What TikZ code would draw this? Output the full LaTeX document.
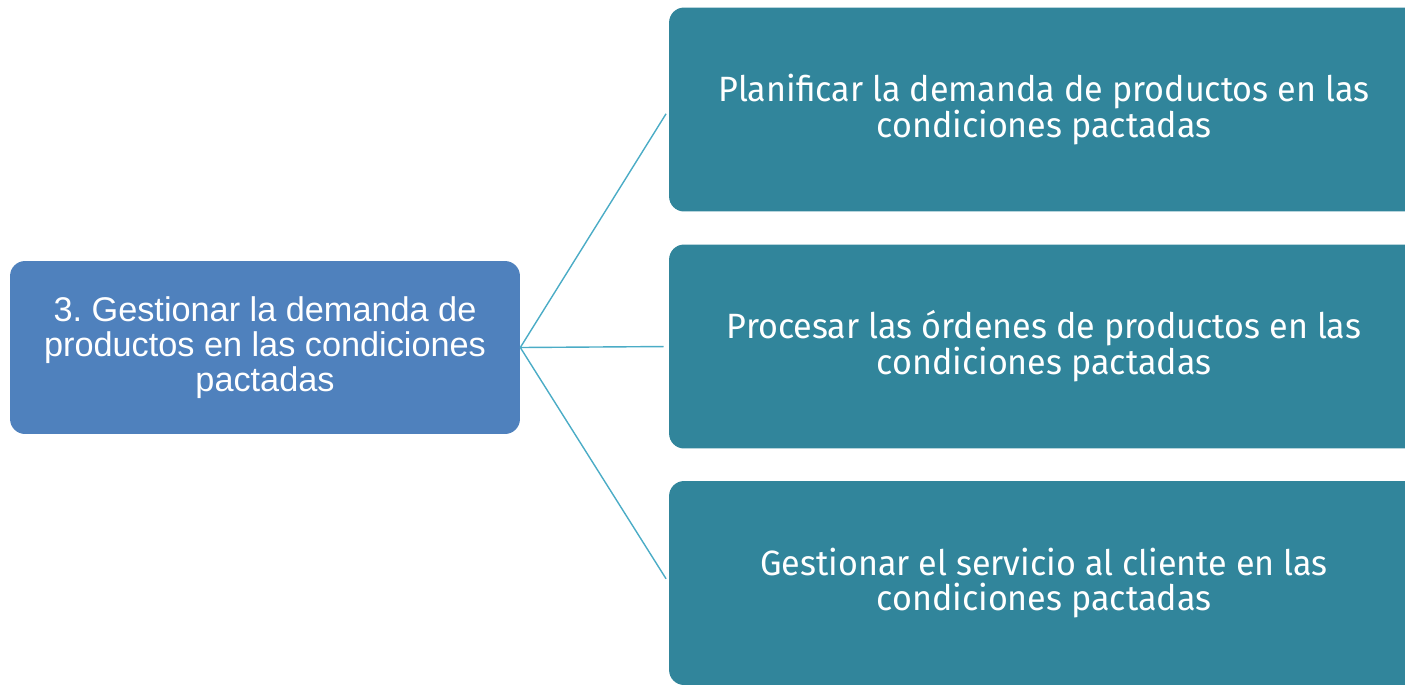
\documentclass[tikz,border=0pt]{standalone}
\usepackage{fontspec}
\setmainfont{Liberation Sans}
\newfontfamily\subfont[FakeStretch=0.97]{Fira Sans}
\usepackage{tikz}
\usetikzlibrary{calc}
\definecolor{rootblue}{RGB}{79,129,189}
\definecolor{subteal}{RGB}{49,133,155}
\definecolor{linkblue}{RGB}{75,172,198}
\frenchspacing
\tikzset{
	rootbox/.style={fill=rootblue, rounded corners=0.3cm, minimum width=10.2cm, minimum height=3.46cm, align=center, text=white, font=\fontsize{19.5}{19.9}\selectfont},
	subbox/.style={fill=subteal, rounded corners=0.3cm, minimum width=15cm, minimum height=4.08cm, align=center, text=white, font=\subfont\fontsize{20}{20.4}\selectfont},
	link/.style={draw=linkblue, line width=0.8pt, shorten >=0.1cm}
}
\begin{document}
\begin{tikzpicture}[x=0.02cm, y=-0.02cm]
		\useasboundingbox (0,0) rectangle (1405,684);
		\node[rootbox] (G) at (265,347.5) {3. Gestionar la demanda de\\productos en las condiciones\\pactadas};
		\node[subbox] (S1) at (1044,109.5) {Planificar la demanda de productos en las\\condiciones pactadas};
		\node[subbox] (S2) at (1044,346.5) {Procesar las órdenes de productos en las\\condiciones pactadas};
		\node[subbox] (S3) at (1044,583) {Gestionar el servicio al cliente en las\\condiciones pactadas};
		\foreach \s in {S1,S2,S3}
			\draw[link] (G.east) -- (\s.west);
	\end{tikzpicture}
\end{document}
